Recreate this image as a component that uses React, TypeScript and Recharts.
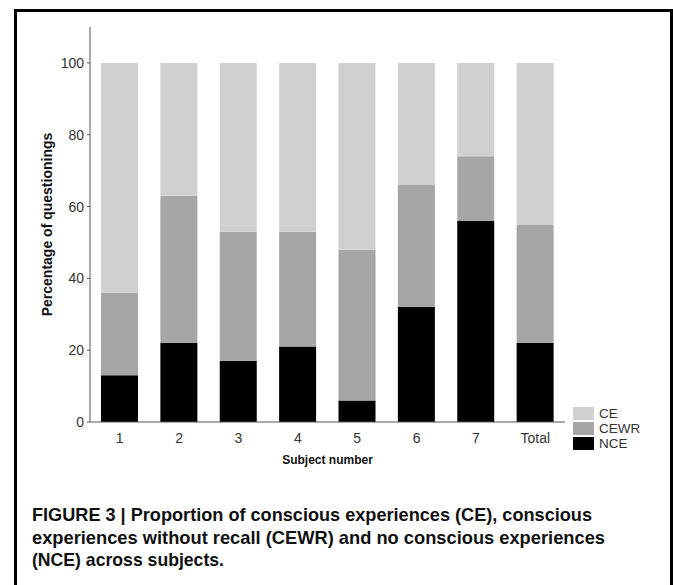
import React from 'react';
import { BarChart, Bar, XAxis, YAxis, Legend } from 'recharts';

const categories = ['1', '2', '3', '4', '5', '6', '7', 'Total'];
const nceValues = [13, 22, 17, 21, 6, 32, 56, 22];
const cewrValues = [23, 41, 36, 32, 42, 34, 18, 33];
const ceValues = [64, 37, 47, 47, 52, 34, 26, 45];
const yTicks = [0, 20, 40, 60, 80, 100];
const legendOrder = ['CE', 'CEWR', 'NCE'];

const captionLines = [
  'FIGURE 3 | Proportion of conscious experiences (CE), conscious',
  'experiences without recall (CEWR) and no conscious experiences',
  '(NCE) across subjects.',
];
const captionWidths = [560, 573, 192];

const data = categories.map((c, i) => ({
  subject: c,
  NCE: nceValues[i],
  CEWR: cewrValues[i],
  CE: ceValues[i],
}));

const FONT = "'Liberation Sans', Arial, Helvetica, sans-serif";
const AXIS = '#555555';

const renderLegend = (props: any) => {
  const payload = (props.payload || []).slice().sort(
    (a: any, b: any) => legendOrder.indexOf(a.value) - legendOrder.indexOf(b.value)
  );
  return (
    <div style={{ fontFamily: FONT, fontSize: 13.5, color: '#333' }}>
      {payload.map((p: any) => (
        <div key={p.value} style={{ display: 'flex', alignItems: 'center', height: 15 }}>
          <div style={{ width: 21, height: 13, background: p.color, marginRight: 5 }} />
          <span style={{ lineHeight: '13px' }}>{p.value}</span>
        </div>
      ))}
    </div>
  );
};

const yLabel = (props: any) => {
  const vb = props.viewBox || {};
  const cx = 47;
  const cy = vb.y + vb.height / 2;
  return (
    <text
      x={cx}
      y={cy}
      transform={`rotate(-90, ${cx}, ${cy})`}
      textAnchor="middle"
      dominantBaseline="central"
      fontFamily={FONT}
      fontSize={14}
      fontWeight="bold"
      fill="#111"
    >
      Percentage of questionings
    </text>
  );
};

const xLabel = (props: any) => {
  const vb = props.viewBox || {};
  const cx = vb.x + vb.width / 2;
  const cy = vb.y + 38;
  return (
    <text
      x={cx}
      y={cy}
      textAnchor="middle"
      dominantBaseline="central"
      fontFamily={FONT}
      fontSize={12}
      fontWeight="bold"
      fill="#111"
    >
      Subject number
    </text>
  );
};

export default function App() {
  return (
    <div style={{ position: 'absolute', left: 0, top: 0, width: 673, height: 585, overflow: 'hidden', background: '#fff' }}>
      <div
        style={{
          position: 'absolute',
          left: 14,
          top: 9,
          width: 659,
          height: 620,
          border: '3px solid #000',
          boxSizing: 'border-box',
        }}
      />
      <div style={{ position: 'absolute', left: 0, top: 0 }}>
        <BarChart
          width={673}
          height={480}
          data={data}
          margin={{ top: 27, right: 108, left: 0, bottom: 8 }}
          barSize={37}
        >
          <XAxis
            dataKey="subject"
            height={50}
            axisLine={{ stroke: AXIS }}
            tickLine={false}
            tickSize={6}
            tickMargin={5}
            tick={{ fontFamily: FONT, fontSize: 14, fill: '#333' }}
            label={xLabel}
          />
          <XAxis
            xAxisId="top"
            orientation="top"
            dataKey="subject"
            height={0}
            axisLine={{ stroke: AXIS }}
            tick={false}
            tickLine={false}
          />
          <YAxis
            width={90}
            domain={[0, 110]}
            ticks={yTicks}
            axisLine={{ stroke: AXIS }}
            tickLine={{ stroke: AXIS }}
            tickSize={3}
            tickMargin={3}
            tick={{ fontFamily: FONT, fontSize: 14, fill: '#333' }}
            label={yLabel}
          />
          <YAxis
            yAxisId="right"
            orientation="right"
            width={0}
            domain={[0, 110]}
            axisLine={{ stroke: AXIS }}
            tick={false}
            tickLine={false}
          />
          <Legend
            layout="vertical"
            align="center"
            verticalAlign="middle"
            wrapperStyle={{ left: 573, top: 406, width: 90, right: 'auto', bottom: 'auto' }}
            content={renderLegend}
          />
          <Bar dataKey="NCE" stackId="s" fill="#000000" isAnimationActive={false} />
          <Bar dataKey="CEWR" stackId="s" fill="#a6a6a6" isAnimationActive={false} />
          <Bar dataKey="CE" stackId="s" fill="#d0d0d0" isAnimationActive={false} />
        </BarChart>
      </div>
      <svg width={673} height={585} style={{ position: 'absolute', left: 0, top: 0, pointerEvents: 'none' }}>
        {captionLines.map((l, i) => (
          <text
            key={l}
            x={32}
            y={521 + i * 22.5}
            fontFamily={FONT}
            fontWeight="bold"
            fontSize={18.5}
            fill="#111"
            textLength={captionWidths[i]}
            lengthAdjust="spacingAndGlyphs"
          >
            {l}
          </text>
        ))}
      </svg>
    </div>
  );
}
